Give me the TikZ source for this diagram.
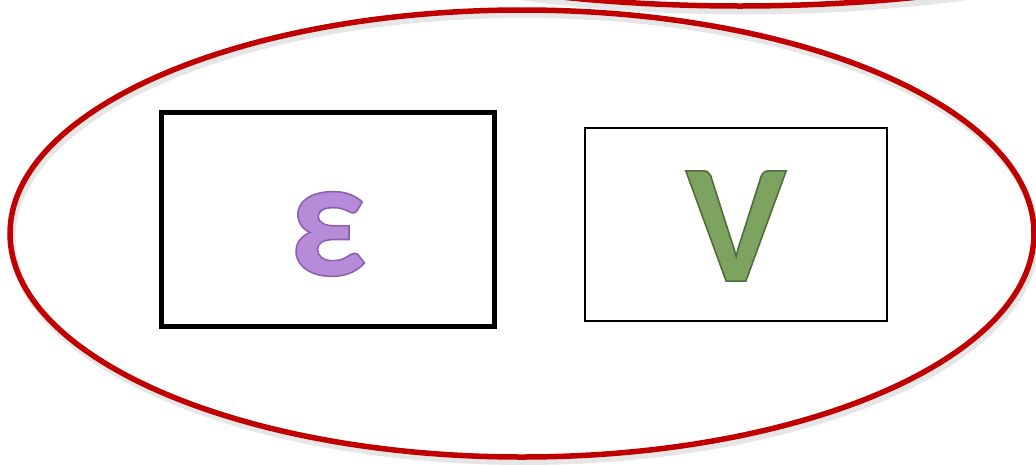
\documentclass[tikz,border=0pt]{standalone}
\usepackage{fontspec}
\newfontfamily\glyphfont{Carlito}
\definecolor{ellred}{RGB}{192,0,0}
\definecolor{epsfill}{RGB}{182,140,216}
\definecolor{vfill}{RGB}{126,162,96}
\newcommand{\strokedglyph}[2]{\special{pdf:code 2 Tr #1 RG 1.6 w}#2\special{pdf:code 0 Tr}}
\tikzset{
  ring/.style={draw=ellred, line width=5.5pt},
  ringshadow/.style={draw=black!60, line width=7pt, opacity=0.16},
  thickbox/.style={draw=black, line width=5pt},
  thinbox/.style={draw=black, line width=1.8pt},
  bigglyph/.style={font=\glyphfont\bfseries\fontsize{170}{170}\selectfont, inner sep=0pt},
}
\begin{document}
\begin{tikzpicture}[x=1pt,y=-1pt]
\useasboundingbox (0,0) rectangle (1036,464);
\begin{scope}
\clip (0,0) rectangle (1036,464);
% partial ellipse at top right
\draw[ringshadow] (743,-189) ellipse [x radius=600, y radius=200];
\draw[ring] (740,-194) ellipse [x radius=600, y radius=200];
% main ellipse
\draw[ringshadow] (524,238) ellipse [x radius=512, y radius=223.5];
\draw[ring] (522,233.5) ellipse [x radius=512, y radius=223.5];
\end{scope}
% boxes
\node[thickbox, minimum width=333pt, minimum height=214pt, inner sep=0pt] (eps) at (327.5,219) {};
\node[thinbox, minimum width=302pt, minimum height=193pt, inner sep=0pt] (vee) at (736,224.5) {};
% glyphs
\node[bigglyph, text=epsfill] (epsglyph) at (328,234) {\strokedglyph{0.55 0.38 0.71}{ε}};
\node[bigglyph, text=vfill] (veeglyph) at (736,226) {\strokedglyph{0.31 0.43 0.23}{V}};
\end{tikzpicture}
\end{document}
